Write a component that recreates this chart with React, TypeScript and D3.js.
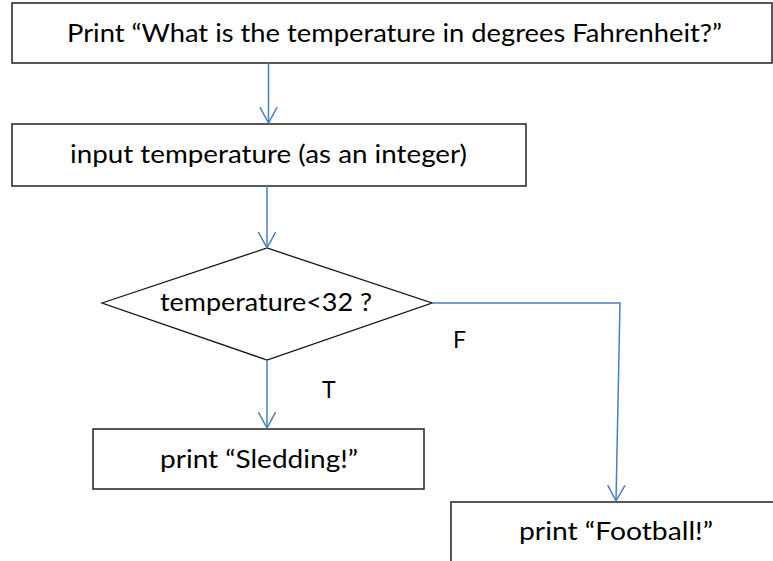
import React, { useRef, useEffect } from 'react';
import * as d3 from 'd3';

// flowchart content
const boxLabels = [
  'Print \u201CWhat is the temperature in degrees Fahrenheit?\u201D',
  'input temperature (as an integer)',
  'print \u201CSledding!\u201D',
  'print \u201CFootball!\u201D',
];
const decisionLabel = 'temperature<32 ?';
const branchLabels = ['T', 'F'];

// layout (pixels)
const boxes = [
  { x0: 12, y0: 3, x1: 772, y1: 63, tx: 67, tw: 655, ty: 42 },
  { x0: 12, y0: 124, x1: 526, y1: 186, tx: 70, tw: 397, ty: 163 },
  { x0: 93, y0: 429, x1: 424, y1: 489, tx: 160, tw: 198, ty: 468 },
  { x0: 451, y0: 502, x1: 790, y1: 580, tx: 519, tw: 194, ty: 540 },
];
const diamond = { cx: 267, cy: 303, hw: 165, top: 248, bottom: 360, tx: 160, tw: 212, ty: 311 };
const branchPos = [
  { x: 322, y: 398 },
  { x: 453, y: 348 },
];

const connectors: [number, number][][] = [
  [[268.5, 63], [268.5, 123]],
  [[267, 186], [267, 248]],
  [[267, 360], [267, 428]],
  [[432, 303], [620, 303], [616, 501]],
];

export default function App() {
  const ref = useRef<SVGSVGElement>(null);

  useEffect(() => {
    const width = 773;
    const height = 561;
    const svg = d3.select(ref.current).attr('viewBox', `0 0 ${width} ${height}`);
    svg.selectAll('*').remove();

    const font = "Lato, 'Open Sans', sans-serif";
    const line = d3.line();

    // boxes
    svg
      .selectAll('.box')
      .data(boxes)
      .join('rect')
      .attr('class', 'box')
      .attr('x', d => d.x0)
      .attr('y', d => d.y0)
      .attr('width', d => d.x1 - d.x0)
      .attr('height', d => d.y1 - d.y0)
      .attr('fill', '#fff')
      .attr('stroke', '#222')
      .attr('stroke-width', 1.5);

    svg
      .selectAll('.boxlabel')
      .data(boxes)
      .join('text')
      .attr('class', 'boxlabel')
      .attr('x', d => d.tx)
      .attr('y', d => d.ty)
      .attr('textLength', d => d.tw)
      .attr('lengthAdjust', 'spacingAndGlyphs')
      .attr('font-family', font)
      .attr('font-size', 25)
      .attr('fill', '#000')
      .text((d, i) => boxLabels[i]);

    // decision
    const { cx, cy, hw, top, bottom } = diamond;
    svg
      .append('path')
      .attr(
        'd',
        line([
          [cx - hw, cy],
          [cx, top],
          [cx + hw, cy],
          [cx, bottom],
          [cx - hw, cy],
        ]) + 'Z'
      )
      .attr('fill', '#fff')
      .attr('stroke', '#111')
      .attr('stroke-width', 1.3);

    svg
      .append('text')
      .attr('x', diamond.tx)
      .attr('y', diamond.ty)
      .attr('textLength', diamond.tw)
      .attr('lengthAdjust', 'spacingAndGlyphs')
      .attr('font-family', font)
      .attr('font-size', 25)
      .text(decisionLabel);

    // connectors
    const blue = '#4a7ebb';
    svg
      .selectAll('.conn')
      .data(connectors)
      .join('path')
      .attr('class', 'conn')
      .attr('d', d => line(d))
      .attr('fill', 'none')
      .attr('stroke', blue)
      .attr('stroke-width', 1.5);

    // open arrowheads
    svg
      .selectAll('.head')
      .data(connectors)
      .join('path')
      .attr('class', 'head')
      .attr('d', d => {
        const [x1, y1] = d[d.length - 1];
        const [x0, y0] = d[d.length - 2];
        const a = Math.atan2(y1 - y0, x1 - x0);
        const len = 18;
        const spread = 0.5;
        return line([
          [x1 - len * Math.cos(a - spread), y1 - len * Math.sin(a - spread)],
          [x1, y1],
          [x1 - len * Math.cos(a + spread), y1 - len * Math.sin(a + spread)],
        ]);
      })
      .attr('fill', 'none')
      .attr('stroke', blue)
      .attr('stroke-width', 1.5);

    // branch labels
    svg
      .selectAll('.branch')
      .data(branchPos)
      .join('text')
      .attr('class', 'branch')
      .attr('x', d => d.x)
      .attr('y', d => d.y)
      .attr('font-family', font)
      .attr('font-size', 23)
      .text((d, i) => branchLabels[i]);
  }, []);

  return (
    <svg
      ref={ref}
      width={773}
      height={561}
      style={{ position: 'absolute', left: 0, top: 0, background: '#fff' }}
    />
  );
}
